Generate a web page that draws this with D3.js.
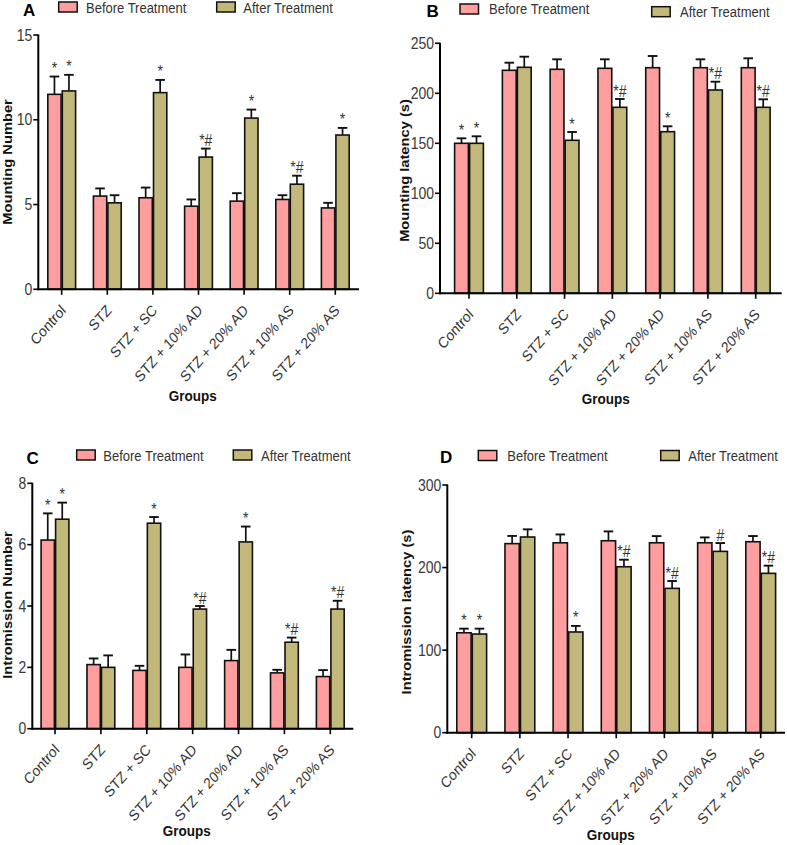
<!DOCTYPE html>
<html>
<head>
<meta charset="utf-8">
<script src="https://cdn.jsdelivr.net/npm/d3@7"></script>
<style>
  html, body { margin: 0; padding: 0; background: #fff; }
  svg { display: block; font-family: "Liberation Sans", Arial, sans-serif; }
</style>
</head>
<body>
<svg id="chart" width="787" height="845"></svg>
<script>
// ---------------- DATA ----------------
const groups = ["Control", "STZ", "STZ + SC", "STZ + 10% AD", "STZ + 20% AD", "STZ + 10% AS", "STZ + 20% AS"];
const seriesNames = ["Before Treatment", "After Treatment"];

// Panel A: Mounting Number
const mountNumBefore    = [11.5, 5.5, 5.4, 4.9, 5.2, 5.3, 4.8];
const mountNumBeforeErr = [1.05, 0.45, 0.6, 0.4, 0.47, 0.25, 0.3];
const mountNumAfter     = [11.7, 5.1, 11.6, 7.8, 10.1, 6.2, 9.1];
const mountNumAfterErr  = [0.95, 0.45, 0.75, 0.5, 0.5, 0.5, 0.42];
const mountNumSigBefore = ["*", "", "", "", "", "", ""];
const mountNumSigAfter  = ["*", "", "*", "*#", "*", "*#", "*"];
const mountNumTicks     = [0, 5, 10, 15];

// Panel B: Mounting latency (s)
const mountLatBefore    = [150, 223, 224, 225, 225.6, 225.6, 225.6];
const mountLatBeforeErr = [5, 7.6, 10, 9, 11.7, 8.4, 9.4];
const mountLatAfter     = [150, 226, 153, 186, 161.6, 203.3, 186];
const mountLatAfterErr  = [7, 10.6, 8.3, 8.3, 5.4, 8.3, 8];
const mountLatSigBefore = ["*", "", "", "", "", "", ""];
const mountLatSigAfter  = ["*", "", "*", "*#", "*", "*#", "*#"];
const mountLatTicks     = [0, 50, 100, 150, 200, 250];

// Panel C: Intromission Number
const introNumBefore    = [6.15, 2.09, 1.9, 2.0, 2.22, 1.82, 1.7];
const introNumBeforeErr = [0.87, 0.2, 0.15, 0.42, 0.35, 0.1, 0.21];
const introNumAfter     = [6.83, 2.0, 6.7, 3.9, 6.09, 2.82, 3.9];
const introNumAfterErr  = [0.54, 0.39, 0.2, 0.1, 0.5, 0.15, 0.27];
const introNumSigBefore = ["*", "", "", "", "", "", ""];
const introNumSigAfter  = ["*", "", "*", "*#", "*", "*#", "*#"];
const introNumTicks     = [0, 2, 4, 6, 8];

// Panel D: Intromission latency (s)
const introLatBefore    = [121, 229, 230, 232.5, 230, 230, 231.3];
const introLatBeforeErr = [5, 9.3, 10.1, 11.3, 8.1, 6.5, 6.9];
const introLatAfter     = [119.5, 237, 122, 201, 174.8, 219.6, 193];
const introLatAfterErr  = [6.5, 9.3, 7.3, 8.5, 8.9, 10.1, 9.3];
const introLatSigBefore = ["*", "", "", "", "", "", ""];
const introLatSigAfter  = ["*", "", "*", "*#", "*#", "#", "*#"];
const introLatTicks     = [0, 100, 200, 300];

// ---------------- STYLE / LAYOUT ----------------
const colors = ["#ff9e9e", "#c2b87a"];
const K = 1.13; // vertical stretch of glyphs in the reference
const textGray = "#333";

const panels = [
  { letter: "A", title: "Mounting Number",
    before: mountNumBefore, beforeErr: mountNumBeforeErr, after: mountNumAfter, afterErr: mountNumAfterErr,
    sigB: mountNumSigBefore, sigA: mountNumSigAfter, ticks: mountNumTicks,
    axisX: [38.3, 359], centers: [61.7, 335.3], yPx: [289.3, 35], bw: 14.5,
    letterPos: [23, 15.5], leg: [[58.7, 2, 86, 12.8], [216.7, 2, 243.3, 12.8]],
    titlePos: [11.5, 162], groupsPos: [192.7, 400.5] },
  { letter: "B", title: "Mounting latency (s)",
    before: mountLatBefore, beforeErr: mountLatBeforeErr, after: mountLatAfter, afterErr: mountLatAfterErr,
    sigB: mountLatSigBefore, sigA: mountLatSigAfter, ticks: mountLatTicks,
    axisX: [440, 781.7], centers: [469, 755.7], yPx: [293.3, 43.3], bw: 15,
    letterPos: [426.5, 17], leg: [[460, 4, 489, 14], [651.7, 6.7, 680, 16.7]],
    titlePos: [409, 170.5], groupsPos: [605.8, 404] },
  { letter: "C", title: "Intromission Number",
    before: introNumBefore, beforeErr: introNumBeforeErr, after: introNumAfter, afterErr: introNumAfterErr,
    sigB: introNumSigBefore, sigA: introNumSigAfter, ticks: introNumTicks,
    axisX: [32.3, 353.3], centers: [55, 330.3], yPx: [728.7, 483.3], bw: 14.5,
    letterPos: [26.5, 463.5], leg: [[76.7, 450, 103.3, 461], [233.3, 450, 261, 461]],
    titlePos: [11.5, 605], groupsPos: [186.7, 835.5] },
  { letter: "D", title: "Intromission latency (s)",
    before: introLatBefore, beforeErr: introLatBeforeErr, after: introLatAfter, afterErr: introLatAfterErr,
    sigB: introLatSigBefore, sigA: introLatSigAfter, ticks: introLatTicks,
    axisX: [447.3, 785], centers: [471.7, 760.7], yPx: [732.7, 485], bw: 15.5,
    letterPos: [440, 463.3], leg: [[478.3, 450.5, 507.3, 461], [660.7, 450.5, 688.3, 461]],
    titlePos: [411, 612], groupsPos: [610.8, 840] }
];

const svg = d3.select("#chart");

function txt(g, x, y, s, o = {}) {
  const t = g.append("text")
    .attr("transform", `translate(${x},${y}) scale(1,${o.k || K})` + (o.rot ? ` rotate(${o.rot})` : ""))
    .attr("font-size", o.size || 13)
    .attr("font-weight", o.bold ? "bold" : "normal")
    .attr("fill", o.fill || textGray)
    .attr("text-anchor", o.anchor || "start")
    .text(s);
  if (o.dy) t.attr("dy", o.dy);
  return t;
}

panels.forEach(p => {
  const g = svg.append("g");
  const dom = [p.ticks[0], p.ticks[p.ticks.length - 1]];
  const y = d3.scaleLinear().domain(dom).range(p.yPx);
  const x = d3.scalePoint().domain(groups).range(p.centers);
  const sub = d3.scaleBand().domain(seriesNames).range([-p.bw, p.bw]).padding(0);

  const rows = groups.map((grp, i) => ({
    grp,
    vals: [
      { s: seriesNames[0], v: p.before[i], e: p.beforeErr[i], sig: p.sigB[i] },
      { s: seriesNames[1], v: p.after[i], e: p.afterErr[i], sig: p.sigA[i] }
    ]
  }));

  const gg = g.selectAll("g.grp").data(rows).join("g")
    .attr("transform", d => `translate(${x(d.grp)},0)`);

  const item = gg.selectAll("g.item").data(d => d.vals).join("g");

  // error bars (upper only)
  item.append("line")
    .attr("x1", d => sub(d.s) + sub.bandwidth() / 2)
    .attr("x2", d => sub(d.s) + sub.bandwidth() / 2)
    .attr("y1", d => y(d.v))
    .attr("y2", d => y(d.v + d.e))
    .attr("stroke", "#111").attr("stroke-width", 1.7);
  item.append("line")
    .attr("x1", d => sub(d.s) + sub.bandwidth() / 2 - 4.8)
    .attr("x2", d => sub(d.s) + sub.bandwidth() / 2 + 4.8)
    .attr("y1", d => y(d.v + d.e))
    .attr("y2", d => y(d.v + d.e))
    .attr("stroke", "#111").attr("stroke-width", 1.9);

  // bars
  item.append("rect")
    .attr("x", d => sub(d.s) + 0.6)
    .attr("width", sub.bandwidth() - 1.2)
    .attr("y", d => y(d.v))
    .attr("height", d => y(0) - y(d.v))
    .attr("fill", (d, i) => colors[i])
    .attr("stroke", "#111").attr("stroke-width", 1.6);

  // significance marks
  item.each(function (d) {
    if (!d.sig) return;
    txt(d3.select(this), sub(d.s) + sub.bandwidth() / 2, y(d.v + d.e) - 2.5, d.sig,
      { anchor: "middle", size: 14, fill: "#333" });
  });

  // y axis
  g.append("line").attr("x1", p.axisX[0]).attr("x2", p.axisX[0])
    .attr("y1", y(dom[1]) - 0.5).attr("y2", y(0) + 1)
    .attr("stroke", "#000").attr("stroke-width", 2);
  p.ticks.forEach(t => {
    g.append("line").attr("x1", p.axisX[0] - 5).attr("x2", p.axisX[0])
      .attr("y1", y(t)).attr("y2", y(t)).attr("stroke", "#000").attr("stroke-width", 1.6);
    txt(g, p.axisX[0] - 6, y(t), String(t), { anchor: "end", size: 14, dy: "0.36em", fill: "#3a3a3a" });
  });
  // x axis
  g.append("line").attr("x1", p.axisX[0] - 1).attr("x2", p.axisX[1])
    .attr("y1", y(0)).attr("y2", y(0))
    .attr("stroke", "#000").attr("stroke-width", 2);
  groups.forEach(grp => {
    g.append("line").attr("x1", x(grp)).attr("x2", x(grp))
      .attr("y1", y(0)).attr("y2", y(0) + 5.5).attr("stroke", "#000").attr("stroke-width", 1.6);
    txt(g, x(grp) + 5, y(0) + 22, grp, { anchor: "end", rot: -45, size: 13.5, fill: "#333" });
  });

  // titles
  txt(g, p.titlePos[0], p.titlePos[1], p.title, { anchor: "middle", rot: -90, bold: true, size: 13, fill: "#111" });
  txt(g, p.groupsPos[0], p.groupsPos[1], "Groups", { anchor: "middle", bold: true, size: 13.5, fill: "#111" });
  txt(g, p.letterPos[0], p.letterPos[1], p.letter, { bold: true, size: 17, fill: "#000", k: 1.0 });

  // legend
  seriesNames.forEach((s, i) => {
    const L = p.leg[i];
    g.append("rect").attr("x", L[0]).attr("y", L[1]).attr("width", 18.5).attr("height", 10)
      .attr("fill", colors[i]).attr("stroke", "#111").attr("stroke-width", 1.5);
    txt(g, L[2], L[3], s, { size: 13, fill: "#333", k: 1.08 });
  });
});
</script>
</body>
</html>
